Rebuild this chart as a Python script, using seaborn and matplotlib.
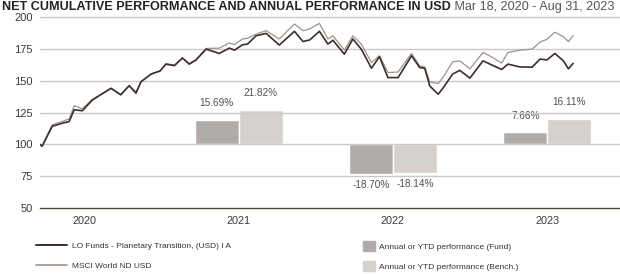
import matplotlib
matplotlib.use("Agg")
import matplotlib.pyplot as plt
import matplotlib.dates as mdates
from matplotlib.lines import Line2D
from matplotlib.patches import Patch
import numpy as np
import pandas as pd
import seaborn as sns

# ---------------- data ----------------
dates = ["2020-03-18", "2020-03-23", "2020-04-16", "2020-05-13", "2020-05-26", "2020-06-07",
         "2020-06-26", "2020-07-20", "2020-09-02", "2020-09-25", "2020-10-15", "2020-10-31",
         "2020-11-12", "2020-12-06", "2020-12-27", "2021-01-10", "2021-01-30", "2021-02-18",
         "2021-03-06", "2021-03-22", "2021-04-15", "2021-05-16", "2021-06-09", "2021-06-21",
         "2021-07-10", "2021-07-22", "2021-08-11", "2021-09-04", "2021-10-05", "2021-11-10",
         "2021-11-30", "2021-12-16", "2022-01-08", "2022-01-28", "2022-02-09", "2022-03-08",
         "2022-03-28", "2022-04-17", "2022-05-11", "2022-05-30", "2022-06-19", "2022-07-13",
         "2022-08-14", "2022-09-02", "2022-09-14", "2022-09-26", "2022-10-16", "2022-10-28",
         "2022-11-19", "2022-12-06", "2022-12-30", "2023-01-30", "2023-02-20", "2023-03-15",
         "2023-03-30", "2023-04-27", "2023-05-26", "2023-06-14", "2023-06-30", "2023-07-19",
         "2023-08-08", "2023-08-20", "2023-08-31"]

fund = [100.0, 98.6, 114.3, 117.0, 118.0, 127.3,
        126.5, 135.0, 144.2, 139.0, 146.3, 140.3,
        149.4, 155.4, 157.8, 163.2, 162.0, 168.0,
        163.2, 166.4, 175.0, 171.6, 175.8, 174.2,
        178.4, 179.0, 185.5, 187.4, 178.2, 189.0,
        181.0, 182.2, 189.0, 179.0, 182.0, 171.0,
        183.0, 175.0, 160.0, 169.0, 152.6, 152.6,
        169.8, 160.5, 160.0, 146.0, 139.5, 144.7,
        155.3, 158.3, 152.2, 165.8, 162.5, 159.0,
        163.2, 161.0, 160.8, 167.2, 166.5, 171.6,
        165.8, 159.5, 163.8]

bench = [100.0, 99.0, 115.5, 118.5, 120.0, 130.5,
         128.0, 135.5, 144.0, 139.5, 146.0, 141.5,
         149.0, 155.5, 158.0, 163.5, 162.5, 168.0,
         163.5, 166.8, 175.5, 175.8, 179.8, 178.5,
         183.0, 183.5, 186.9, 189.5, 183.0, 194.8,
         189.5, 190.9, 195.3, 183.0, 185.5, 174.2,
         185.5, 179.0, 164.5, 169.8, 156.6, 157.0,
         171.6, 161.8, 161.0, 149.2, 147.9, 153.2,
         165.0, 165.8, 159.5, 172.4, 168.7, 164.0,
         172.4, 174.2, 175.0, 180.6, 182.7, 188.3,
         184.8, 181.0, 185.5]

years = ["2020", "2021", "2022", "2023"]
bar_years = ["2021", "2022", "2023"]
bar_fund = [15.69, -18.70, 7.66]
bar_bench = [21.82, -18.14, 16.11]

fund_name = "LO Funds - Planetary Transition, (USD) I A"
bench_name = "MSCI World ND USD"
bar_fund_name = "Annual or YTD performance (Fund)"
bar_bench_name = "Annual or YTD performance (Bench.)"
title_bold = "NET CUMULATIVE PERFORMANCE AND ANNUAL PERFORMANCE IN USD"
title_rest = " Mar 18, 2020 - Aug 31, 2023"
y_ticks = [50, 75, 100, 125, 150, 175, 200]

# ---------------- style ----------------
sns.set_theme(style="white")
plt.rcParams["font.family"] = ["Liberation Sans", "DejaVu Sans"]

C_FUND = "#3b2e2c"
C_BENCH = "#9e928b"
C_BFUND = "#b1acaa"
C_BBENCH = "#d6d1cd"
C_GRID = "#c9c9c9"
C_TEXT = "#3a3a3a"

df = pd.DataFrame({"date": pd.to_datetime(dates), "fund": fund, "bench": bench})
long = df.melt(id_vars="date", var_name="series", value_name="value")

W, H = 620, 274
fig = plt.figure(figsize=(W / 100, H / 100), dpi=100)
ax_l, ax_r = 40 / W, 1.0
ax_b = 1 - 208 / H
ax_t = 1 - 11 / H
ax = fig.add_axes([ax_l, ax_b, ax_r - ax_l, ax_t - ax_b])

ylo, yhi = 50, 205
scale = 1.25  # line units per percent
ax2 = ax.twinx()
ax2.set_ylim((ylo - 100) / scale, (yhi - 100) / scale)
ax.set_ylim(ylo, yhi)
ax.set_zorder(ax2.get_zorder() + 1)
ax.patch.set_visible(False)

# bars (on twin axis, zero aligned with 100)
width = 104
for y, vf, vb in zip(bar_years, bar_fund, bar_bench):
    c = mdates.date2num(pd.Timestamp(f"{y}-07-01"))
    ax2.bar(c, vf, width=-width, align="edge", color=C_BFUND, zorder=2)
    ax2.bar(c, vb, width=width, align="edge", color=C_BBENCH, zorder=2)
    for x, v in ((c - width / 2, vf), (c + width / 2, vb)):
        off = 12 if v > 0 else -7.5
        ax2.annotate(f"{v:.2f}%", (x, v), xytext=(0, off), textcoords="offset points",
                     ha="center", va="center", fontsize=7.2, color="#505050")
ax2.set_yticks([])
for s in ax2.spines.values():
    s.set_visible(False)

# gridlines
for t in y_ticks[1:]:
    ax.axhline(t, color=C_GRID, lw=1.0, zorder=0)

# lines
sns.lineplot(data=long, x="date", y="value", hue="series",
             palette={"fund": C_FUND, "bench": C_BENCH}, hue_order=["bench", "fund"],
             size="series", sizes={"fund": 1.2, "bench": 0.9},
             legend=False, ax=ax, zorder=3)

ax.set_xlim(pd.Timestamp("2020-03-18"), pd.Timestamp("2023-12-20"))
ax.set_yticks(y_ticks)
ax.set_yticklabels([str(t) for t in y_ticks], fontsize=8, color=C_TEXT)
ax.tick_params(axis="y", length=0, pad=5)

ax.set_xticks([pd.Timestamp(f"{y}-07-01") for y in years])
ax.set_xticklabels(years, fontsize=7.8, color=C_TEXT)
ax.set_xticks([pd.Timestamp(f"{y}-01-01") for y in years[1:]], minor=True)
ax.tick_params(axis="x", which="major", length=0, pad=6)
ax.tick_params(axis="x", which="minor", length=4, width=1, color="#6b6b50", direction="out")
ax.set_xlabel("")
ax.set_ylabel("")
for k in ("top", "right", "left"):
    ax.spines[k].set_visible(False)
ax.spines["bottom"].set_color("#4a4a3a")
ax.spines["bottom"].set_linewidth(1.0)

# title
tb = fig.text(2 / W, 1 - 1 / H, title_bold, fontsize=9.1, fontweight="bold",
              color="#222222", ha="left", va="top")
fig.canvas.draw()
bb = tb.get_window_extent()
fig.text(bb.x1 / W, 1 - 1 / H, title_rest, fontsize=9.1, color="#555555",
         ha="left", va="top")

# legends
h1 = [Line2D([], [], color=C_FUND, lw=1.4), Line2D([], [], color=C_BENCH, lw=1.2)]
h2 = [Patch(color=C_BFUND), Patch(color=C_BBENCH)]
kw = dict(frameon=False, fontsize=6, labelcolor="#333333", borderpad=0,
          borderaxespad=0, loc="upper left")
fig.legend(h1, [fund_name, bench_name], bbox_to_anchor=(36 / W, 1 - 242 / H),
           handlelength=3.7, handletextpad=0.6, labelspacing=1.45, **kw)
fig.legend(h2, [bar_fund_name, bar_bench_name], bbox_to_anchor=(363 / W, 1 - 241 / H),
           handlelength=1.45, handleheight=1.45, handletextpad=0.5, labelspacing=1.2, **kw)

fig.savefig("out.png", dpi=100)
